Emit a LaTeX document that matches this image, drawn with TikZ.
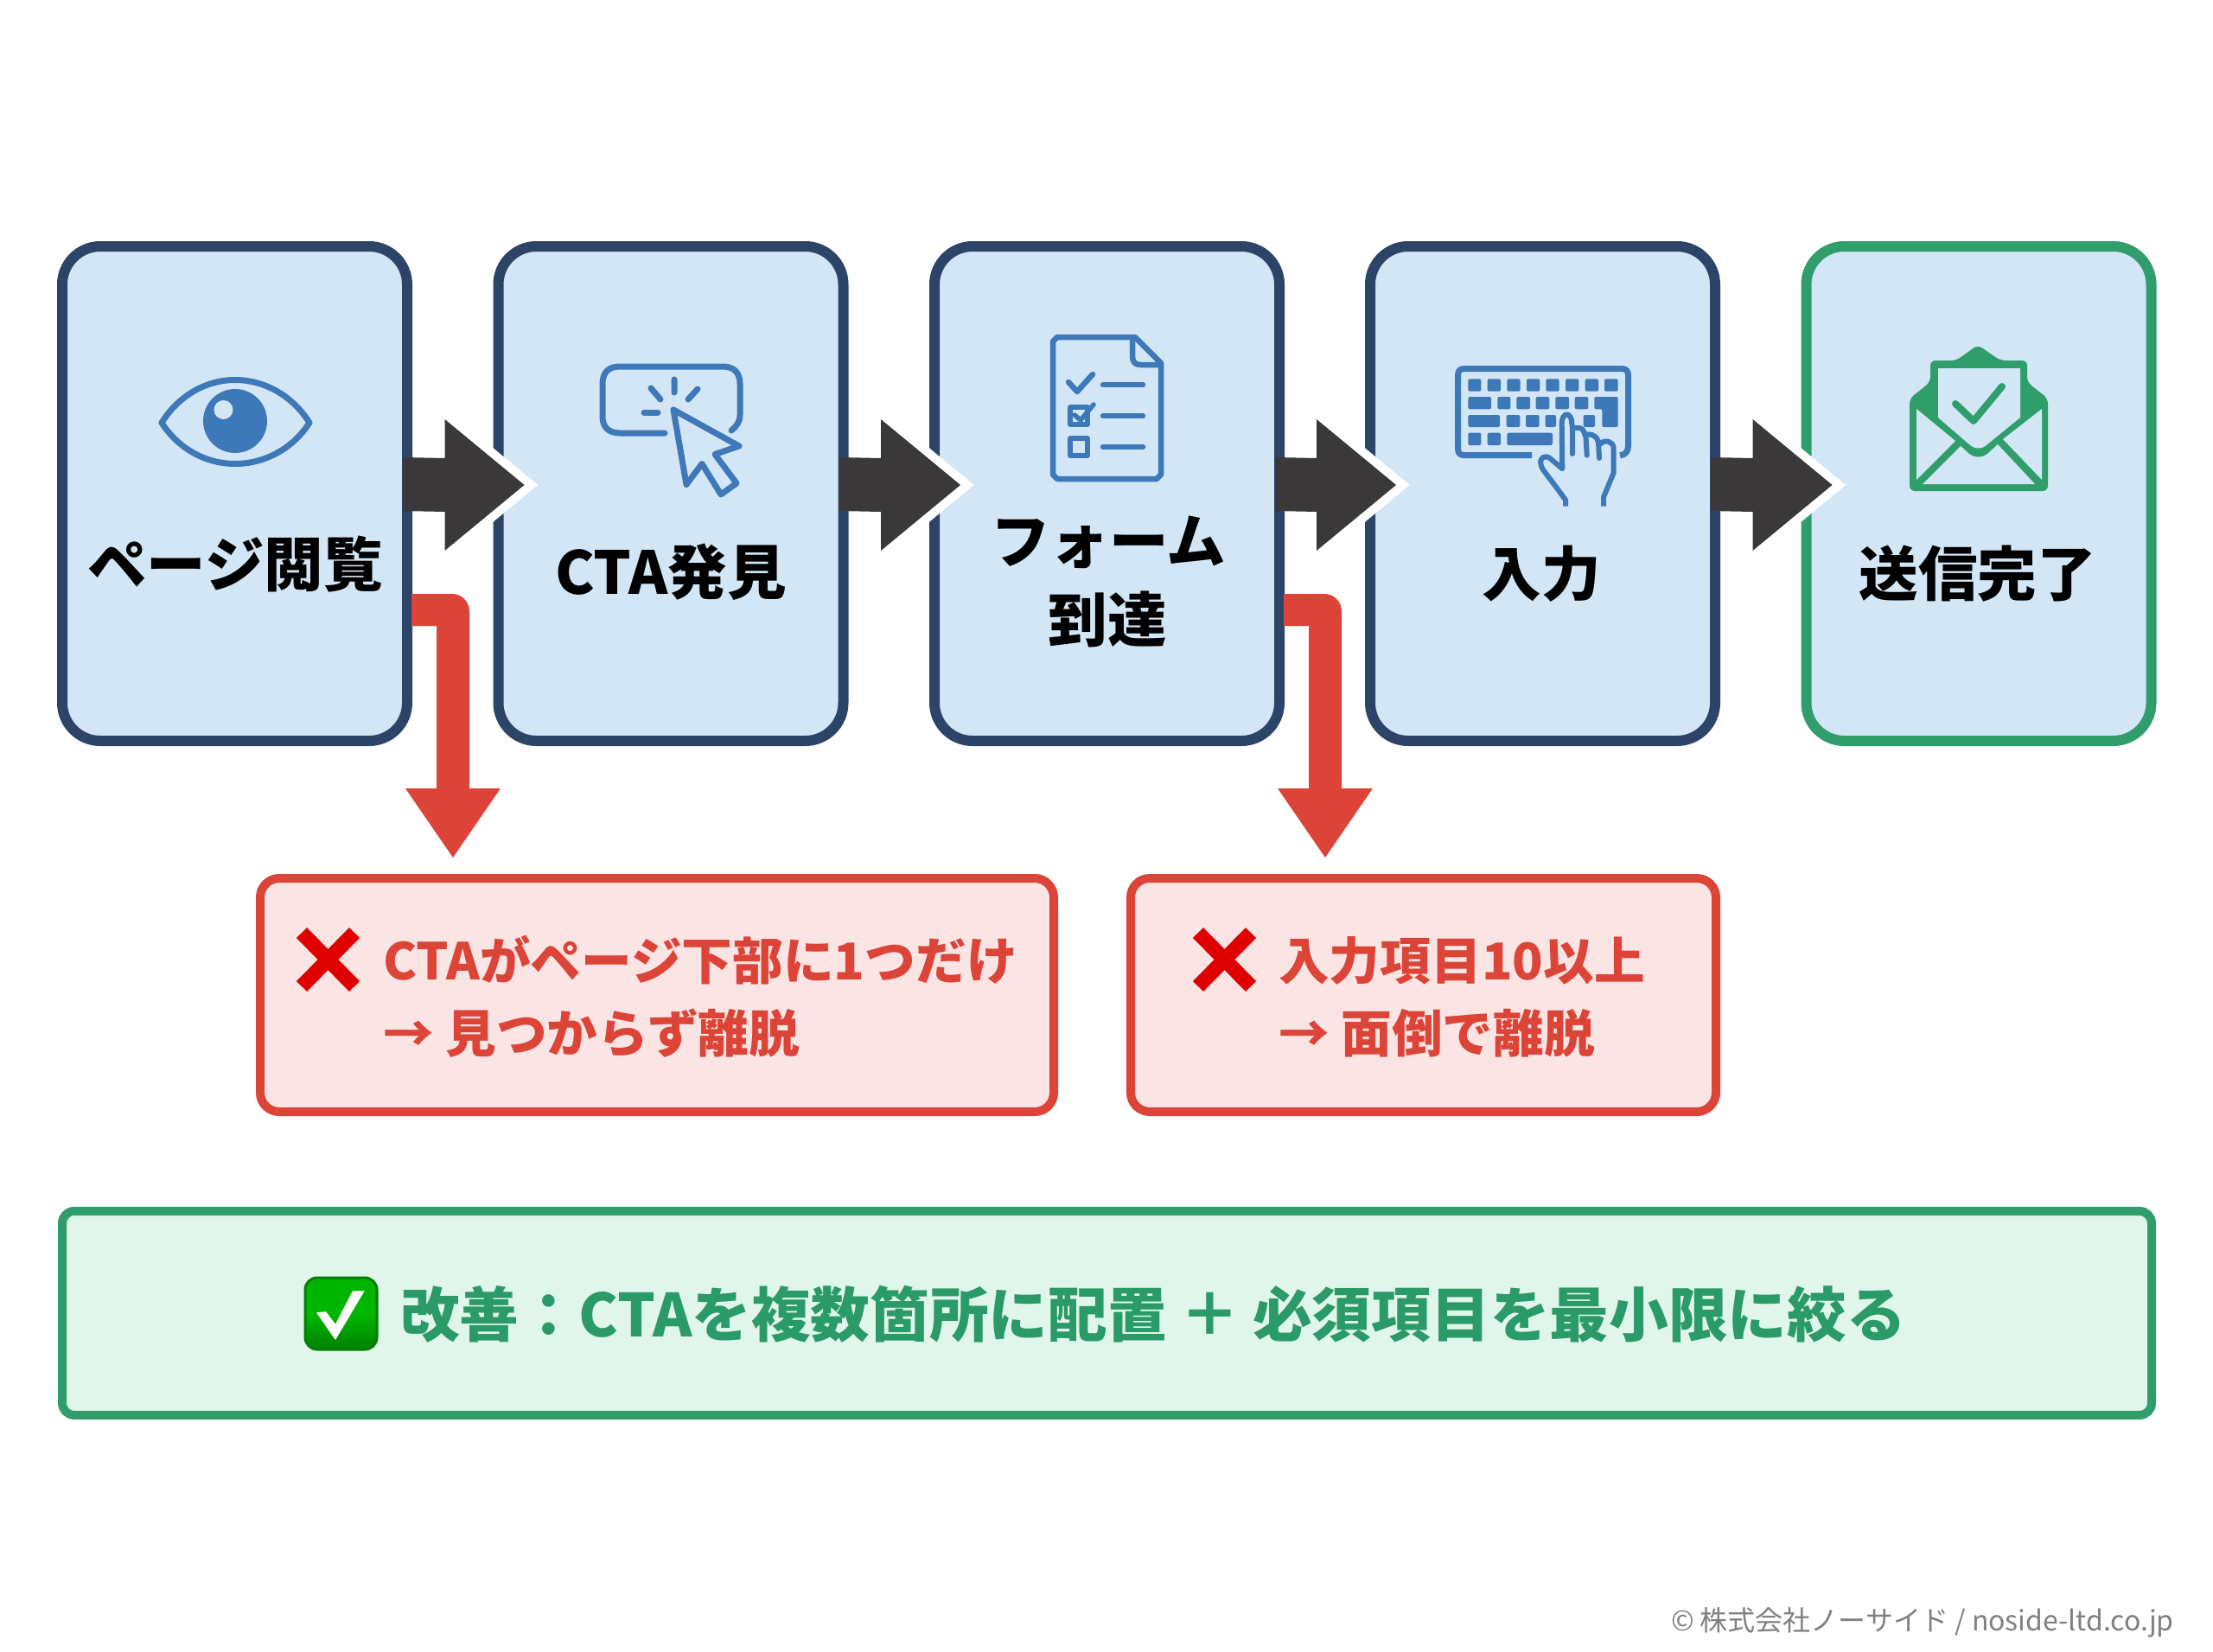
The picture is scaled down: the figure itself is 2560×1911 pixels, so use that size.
\documentclass[tikz,border=0pt]{standalone}
\usepackage{fontspec}
\usetikzlibrary{calc}
\newfontfamily\jp{Noto Sans CJK JP}
\definecolor{boxfill}{HTML}{D3E6F6}
\definecolor{navy}{HTML}{2C4468}
\definecolor{okgreen}{HTML}{2F9E6A}
\definecolor{oktext}{HTML}{2A9A68}
\definecolor{redline}{HTML}{DC4437}
\definecolor{redfill}{HTML}{FBE4E4}
\definecolor{greenfill}{HTML}{E0F6EA}
\definecolor{darkarrow}{HTML}{3A3838}
\definecolor{iconblue}{HTML}{3D78B8}
\definecolor{crossred}{HTML}{E00000}
\definecolor{footgray}{HTML}{808080}
\tikzset{
  stepbox/.style={draw=navy,line width=12pt,fill=boxfill,rounded corners=44pt,minimum width=399pt,minimum height=572pt,outer sep=0pt,inner sep=0pt},
  lossbox/.style={draw=redline,line width=10pt,fill=redfill,rounded corners=22pt,minimum height=270pt,outer sep=0pt,inner sep=0pt},
  bannerbox/.style={draw=okgreen,line width=10pt,fill=greenfill,rounded corners=14pt,minimum width=2417pt,minimum height=236pt,outer sep=0pt,inner sep=0pt},
  steplabel/.style={font=\jp\bfseries\fontsize{68.5}{80}\selectfont,text=black,inner sep=0pt},
  losslabel/.style={font=\jp\bfseries\fontsize{58.7}{70}\selectfont,text=redline,inner sep=0pt,anchor=west},
  bannerlabel/.style={inner sep=0pt,font=\jp\bfseries\fontsize{68.7}{80}\selectfont,text=oktext},
  icon/.style={draw=iconblue,line width=7pt,line cap=round,line join=round},
  key/.style={fill=iconblue,rounded corners=2pt},
  crossmark/.style={draw=crossred,line width=17pt},
}
\newcommand{\flowarrow}[2]{%
  \coordinate (T) at ($(#2.west)+(30,-10)$);
  \draw[white,line width=20pt,miter limit=10,fill=white] ($(T)+(-92,-76)$) -- (T) -- ($(T)+(-92,76)$) -- cycle;
  \fill[darkarrow] ($(#1.east)+(-5,-42)$) -- ($(T)+(-92,-31)$) -- ($(T)+(-92,-76)$) -- (T) -- ($(T)+(-92,76)$) -- ($(T)+(-92,31)$) -- ($(#1.east)+(-5,20)$) -- cycle;
}
\newcommand{\dropout}[1]{%
  \coordinate (E) at ($(#1.east)+(5,0)$);
  \fill[redline] ($(E)+(0,116)$) [rounded corners=20pt] -- ($(E)+(67,116)$) [sharp corners] -- ($(E)+(67,341)$) -- ($(E)+(103,341)$) -- ($(E)+(48,421)$) -- ($(E)+(-7,341)$) -- ($(E)+(29,341)$) -- ($(E)+(29,153)$) -- ($(E)+(0,153)$) -- cycle;
}
\begin{document}
\begin{tikzpicture}[x=1pt,y=-1pt]
\useasboundingbox (0,0) rectangle (2560,1911);
\fill[white] (0,0) rectangle (2560,1911);
% step boxes
\node[stepbox] (b1) at (271.5,571) {};
\node[stepbox] (b2) at (776,571) {};
\node[stepbox] (b3) at (1280.5,571) {};
\node[stepbox] (b4) at (1784.5,571) {};
\node[stepbox,draw=okgreen] (b5) at (2289,571) {};
% labels
\node[steplabel] (l1) at (272,652) {ページ閲覧};
\node[steplabel] (l2) at (776,662) {CTA発見};
\node[steplabel] (l3a) at (1282,627) {フォーム};
\node[steplabel] (l3b) at (1281,716) {到達};
\node[steplabel] (l4) at (1783,664) {入力};
\node[steplabel] (l5) at (2287.5,664) {送信完了};
% eye
\draw[icon] (187,489) .. controls (207,457) and (239,439.5) .. (272,439.5) .. controls (305,439.5) and (338,457) .. (358,489) .. controls (338,520) and (305,536.5) .. (272,536.5) .. controls (239,536.5) and (207,520) .. (187,489) -- cycle;
\fill[iconblue] (272,487) circle (37);
\fill[boxfill] (258.5,474) circle (11);
% click icon
\draw[icon] (769,501) -- (717,501) .. controls (704,501) and (697,494) .. (697,482) -- (697,444) .. controls (697,431) and (704,424) .. (717,424) -- (836,424) .. controls (849,424) and (856,431) .. (856,444) -- (856,480) .. controls (856,488) and (852,493) .. (846,498);
\draw[icon] (780,439) -- (780,454) (753,449) -- (764,462) (807,450) -- (796,462);
\draw[icon] (745,477) -- (761,477);
\draw[icon] (779,474) -- (855,516) -- (827,525.5) -- (852,559) -- (834,572) -- (812,536.5) -- (794,560.5) -- cycle;
% document icon
\draw[icon,line width=6.5pt] (1313,390) -- (1223,390) -- (1218,395) -- (1218,549) -- (1223,554) -- (1338,554) -- (1343,549) -- (1343,420) -- cycle;
\draw[icon,line width=6.5pt] (1310,392) -- (1310,412) .. controls (1310,419) and (1313,422) .. (1320,422) -- (1343,422);
\draw[icon,line width=6.5pt] (1236,442) -- (1246,453) -- (1264,433);
\draw[icon,line width=6.5pt] (1276,445) -- (1322,445) (1276,481) -- (1322,481) (1276,517) -- (1322,517);
\draw[icon,line width=5.5pt] (1238,471) rectangle (1258,491);
\draw[icon,line width=5.5pt] (1243,480) -- (1250,486) -- (1265,468);
\draw[icon,line width=5.5pt] (1238,507) rectangle (1258,527);
% keyboard icon
\draw[icon,line width=7pt,line cap=butt] (1772,526.7) -- (1694,526.7) .. controls (1689,526.7) and (1686.5,524) .. (1686.5,519) -- (1686.5,434) .. controls (1686.5,429) and (1689,426.5) .. (1694,426.5) -- (1876,426.5) .. controls (1881,426.5) and (1883.5,429) .. (1883.5,434) -- (1883.5,516) .. controls (1883.5,522) and (1880,526.7) .. (1874,526.7);
\foreach \a/\b in {85/130,152/198,220/266,288/334,355/401,423/469,491/537,558/605}
  \fill[key] ({1670+\a/3},438.3) rectangle ({1670+\b/3},452.7);
\foreach \a/\b in {85/165,187/232,253/300,320/367,388/435,455/502}
  \fill[key] ({1670+\a/3},459) rectangle ({1670+\b/3},473.3);
\fill[key] (1844.3,459) -- (1871.7,459) -- (1871.7,494) -- (1853.3,494) -- (1853.3,473.3) -- (1844.3,473.3) -- cycle;
\foreach \a/\b in {85/195,218/265,285/332,353/390,485/525}
  \fill[key] ({1670+\a/3},480) rectangle ({1670+\b/3},494);
\foreach \a/\b in {85/130,152/198,220/378}
  \fill[key] ({1670+\a/3},500.7) rectangle ({1670+\b/3},515);
% hand
\draw[icon,line width=6pt,line cap=butt,fill=boxfill] (1811,585.7) -- (1811,578.3) -- (1805,570) -- (1785,543.3) .. controls (1780,535) and (1782,528) .. (1788.3,528.3) .. controls (1791,528.3) and (1793,530) .. (1794,531) -- (1807.3,542.3) -- (1806.7,490) .. controls (1806.5,476) and (1818.5,476) .. (1818.3,490) -- (1819,495) -- (1826.7,495) .. controls (1830,495) and (1833,499) .. (1833.3,503.3) .. controls (1838,501) and (1847,503) .. (1848.3,510) -- (1851.7,513.3) .. controls (1856,508) and (1866,510) .. (1866.7,518.3) -- (1866.7,546.7) -- (1855,575) -- (1855,585.7);
\draw[icon,line width=6pt] (1819,495) -- (1819,525) (1834.5,504) -- (1835.7,526.7) (1849,511) -- (1850,530);
% envelope icon
\fill[okgreen,rounded corners=6pt] (2288,399) -- (2314,417) -- (2345,417) -- (2345,442) -- (2369,461) -- (2369,568) -- (2209,568) -- (2209,461) -- (2233,442) -- (2233,417) -- (2263,417) -- cycle;
\fill[boxfill] (2242,426) -- (2337,426) -- (2337,483) -- (2299,514) .. controls (2293,520) and (2284,520) .. (2278,514) -- (2242,483) -- cycle;
\fill[boxfill] (2217,473) -- (2262,510) -- (2217,555) -- cycle;
\fill[boxfill] (2362,473) -- (2317,508) -- (2362,555) -- cycle;
\fill[boxfill] (2224,560) -- (2268,516) -- (2278,525) .. controls (2285,530) and (2292,530) .. (2299,525) -- (2311,514) -- (2354,560) -- cycle;
\draw[okgreen,line width=8pt,line cap=round,line join=round] (2262,467) -- (2283,487) -- (2316,447);
% loss boxes
\node[lossbox,minimum width=918pt] (r1) at (760,1151) {};
\node[lossbox,minimum width=677pt] (r2) at (1646.5,1151) {};
\draw[crossmark] (349,1079) -- (410,1141) (410,1079) -- (349,1141);
\draw[crossmark] (1386,1079) -- (1447,1141) (1447,1079) -- (1386,1141);
\node[losslabel] (t1a) at (443,1111) {CTAがページ下部に1つだけ};
\node[losslabel] (t1b) at (443,1195) {→ 見つからず離脱};
\node[losslabel] (t2a) at (1479,1111) {入力項目10以上};
\node[losslabel] (t2b) at (1479,1195) {→ 面倒で離脱};
% banner
\node[bannerbox] (g) at (1280.5,1519) {};
\shade[top color=green!70!black,bottom color=green!50!black,middle color=green!72!black,draw=green!50!black,line width=3pt,rounded corners=14pt] (353,1478) rectangle (436,1561);
\fill[white] (366,1518.3) -- (377,1517.3) -- (388,1531.7) -- (408,1493.3) -- (421.7,1493.3) -- (388,1550) -- cycle;
\node[bannerlabel,anchor=west] (gt) at (463,1520) {改善：CTAを複数箇所に配置};
\node[bannerlabel] (gp) at (1400,1520) {＋};
\node[bannerlabel,anchor=west] (gu) at (1449,1520) {必須項目を最小限に絞る};
% footer
\node[inner sep=0pt,anchor=east,font=\jp\fontsize{32}{40}\selectfont,text=footgray] (foot) at (2515,1877) {© 株式会社ノーサイド / noside-ltd.co.jp};
% connectors
\flowarrow{b1}{b2}
\flowarrow{b2}{b3}
\flowarrow{b3}{b4}
\flowarrow{b4}{b5}
\dropout{b1}
\dropout{b3}
\end{tikzpicture}
\end{document}
